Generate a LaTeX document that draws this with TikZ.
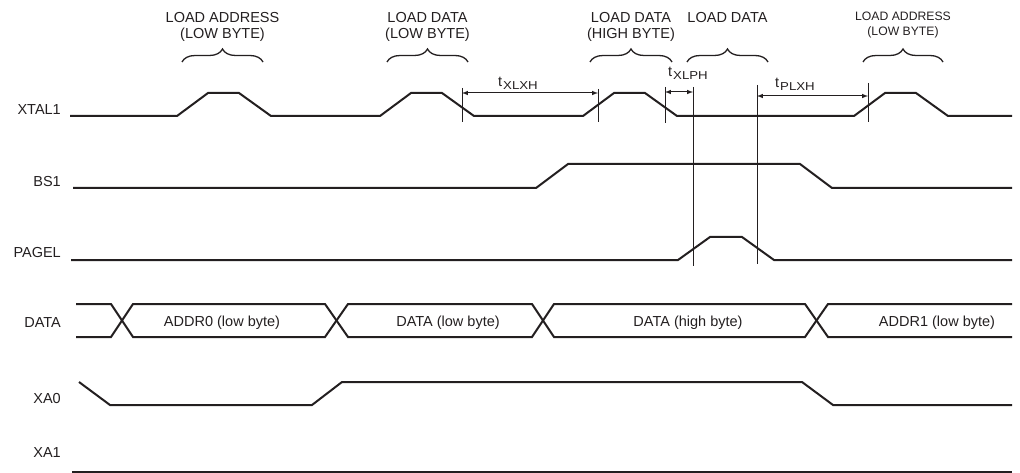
\documentclass[tikz,border=0pt]{standalone}
\usepackage{graphicx}
\usepackage{fontspec}
\setmainfont{Liberation Sans}
\usetikzlibrary{decorations.pathreplacing}
\definecolor{ink}{HTML}{231F20}
\tikzset{>=latex}
\newcommand\tsub[2]{#1\kern1pt\raisebox{-3pt}{\fontsize{11.5}{11.5}\selectfont\scalebox{1.15}[1]{#2}}}

\begin{document}
\begin{tikzpicture}[x=1pt,y=-1pt,line join=miter,
    every node/.style={text=ink,font=\fontsize{14.5}{16}\selectfont},
    sig/.style={ink,line width=2pt}, % waveforms
    guide/.style={ink,line width=0.9pt}, % timing reference lines
    dim/.style={<->,ink,line width=1pt},
    brc/.style={ink,line width=1.3pt,decorate,decoration={brace,amplitude=13pt}},
    op/.style={align=center,anchor=north,inner sep=0pt},
    signame/.style={anchor=base east,inner sep=0pt}]
  \useasboundingbox (0,0) rectangle (1020,473);
  \def\lo{116} \def\hi{93} % XTAL1 levels
  % signal names
  \foreach \n/\y in {XTAL1/115,BS1/187,PAGEL/258,DATA/327,XA0/403,XA1/457}
    \node[signame] (lbl-\n) at (61,\y) {\n};
  % operations over the XTAL1 pulses
  \foreach \n/\a/\b/\fs/\bs/\txt in {la1/182/263/14.5/16/{LOAD ADDRESS\\(LOW BYTE)},
      ld1/387/468/14.5/16/{LOAD DATA\\(LOW BYTE)},
      ld2/590/672/14.5/16/{LOAD DATA\\(HIGH BYTE)},
      ld3/687/768/14.5/16/{LOAD DATA},
      la2/863/943/12.2/14.5/{LOAD ADDRESS\\(LOW BYTE)}}{
    \draw[brc] (\a,62) -- (\b,62);
    \node[op,font=\fontsize{\fs}{\bs}\selectfont] (\n) at ({(\a+\b)/2},12) {\txt};
  }
  % waveforms
  \draw[sig] (70,\lo) foreach \s in {177,380,583,854}{
      -- (\s,\lo) -- ++(31,\hi-\lo) -- ++(31,0) -- ++(32,\lo-\hi)} -- (1012,\lo); % XTAL1
  \draw[sig] (73,188) -- (536,188) -- (568,164) -- (800,164) -- (832,188) -- (1012,188); % BS1
  \draw[sig] (71,260) -- (678,260) -- (710,237) -- (742,237) -- (774,260) -- (1012,260); % PAGEL
  \draw[sig] (76,304) -- (111,304) -- (133,337) -- (325,337) -- (348,304) -- (532,304)
    -- (554,337) -- (805,337) -- (828,304) -- (1012,304); % DATA bus
  \draw[sig] (76,337) -- (111,337) -- (133,304) -- (325,304) -- (348,337) -- (532,337)
    -- (554,304) -- (805,304) -- (828,337) -- (1012,337);
  \draw[sig] (79,382) -- (110,405) -- (312,405) -- (342,382) -- (802,382) -- (833,405) -- (1012,405); % XA0
  \draw[sig] (72,472) -- (1012,472); % XA1
  % bus contents
  \foreach \n/\x/\txt in {v1/222/ADDR0 (low byte),v2/448/DATA (low byte),
      v3/688/DATA (high byte),v4/937/ADDR1 (low byte)}
    \node[anchor=base,inner sep=0pt] (\n) at (\x,326) {\txt};
  % timing references
  \coordinate (a1) at (462,93); \coordinate (a2) at (598,93);
  \coordinate (b1) at (665,92); \coordinate (b2) at (693,92);
  \coordinate (c1) at (757,96); \coordinate (c2) at (868,96);
  \foreach \p/\u/\d in {a1/5/29,a2/4/29,b1/5/31,b2/5/174,c1/11/168,c2/13/26}
    \draw[guide] ([yshift=\u pt]\p) -- ([yshift=-\d pt]\p);
  \draw[dim] (a1) -- (a2);
  \draw[dim] (b1) -- (b2);
  \draw[dim] (c1) -- (c2);
  \node[anchor=base west,inner sep=0pt] (tXLXH) at (498,87) {\tsub{t}{XLXH}};
  \node[anchor=base west,inner sep=0pt] (tXLPH) at (668,77) {\tsub{t}{XLPH}};
  \node[anchor=base west,inner sep=0pt] (tPLXH) at (775,88) {\tsub{t}{PLXH}};
\end{tikzpicture}
\end{document}
